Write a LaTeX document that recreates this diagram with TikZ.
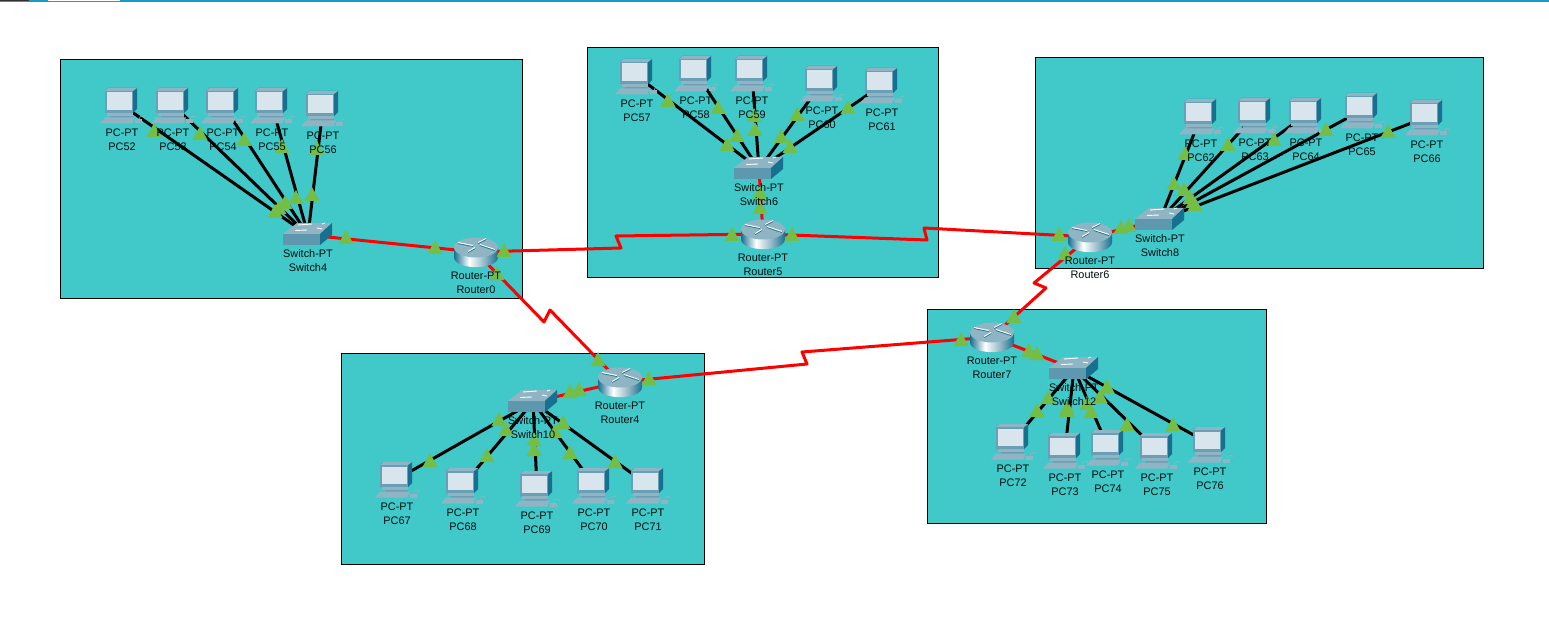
\documentclass[tikz,border=0pt]{standalone}
\usepackage{fontspec}
\setmainfont{Liberation Sans}
\usetikzlibrary{positioning}

\definecolor{roomfill}{HTML}{41C8C9}
\definecolor{linkgreen}{HTML}{74BE46}
\definecolor{barblue}{HTML}{1A9AC9}
\definecolor{devmid}{HTML}{6A9FB5}
\definecolor{devlight}{HTML}{8FB5C5}
\definecolor{devdark}{HTML}{17708F}
\definecolor{devscreen}{HTML}{D8E5EC}

\pgfdeclarehorizontalshading{routerbody}{100bp}{color(0bp)=(devdark); color(25bp)=(devdark);
  color(42bp)=(white); color(60bp)=(devlight); color(75bp)=(devdark); color(100bp)=(devdark)}

\pgfdeclarelayer{linklayer}
\pgfdeclarelayer{marklayer}
\pgfdeclarelayer{textlayer}
\pgfsetlayers{linklayer,main,marklayer,textlayer}

\tikzset{
  room/.style      = {draw=black, line width=1pt, fill=roomfill},
  devpoint/.style  = {inner sep=0pt, minimum size=0pt, outer sep=0pt},
  devlabel/.style  = {inner sep=0pt, align=center, text=black!90!teal,
                      font=\fontsize{10.9}{14}\selectfont},
  ethlink/.style   = {line width=3pt, color=black},
  redlink/.style   = {line width=3pt, color=red, line join=round},
  pcicon/.pic = {
    \fill[devdark]  (-17,-14) -- (-14,-17) -- (15,-17) -- (15,4) -- (11,8) -- (-17,8) -- cycle;
    \fill[devlight] (-17,-14) -- (-14,-17) -- (15,-17) -- (11,-14) -- cycle;
    \fill[devmid]   (-17,-14) rectangle (11,8);
    \fill[devscreen] (-15.5,-12.5) rectangle (10,5);
    \fill[devlight] (-15,8) rectangle (11,11);
    \fill[devmid]   (-12,11) rectangle (11,13);
    \fill[devlight] (-22,18.5) -- (-17,12.5) -- (13,12.5) -- (10,18.5) -- cycle;
    \fill[devlight] (13,14.5) rectangle (20,18.5);
    \draw[devlight, line width=.6pt] (17,14) .. controls (18,10) and (22,11) .. (23,13);
  },
  switchicon/.pic = {
    \fill[devlight] (-25,-1) -- (-11,-12) -- (24,-12) -- (12,-1) -- cycle;
    \fill[devmid!85!devdark] (-25,-1) rectangle (12,10);
    \fill[devdark]  (12,-1) -- (24,-12) -- (24,0) -- (12,10) -- cycle;
    \draw[white, line width=.9pt] (-13,-4.5) -- (-1,-5) (-10,-10) -- (4,-11)
                                  (9,-7) -- (14,-6) (14,-11) -- (17,-12);
  },
  routericon/.pic = {
    \shade[shading=routerbody]
      (-22,-4.5) -- (-22,5) .. controls (-22,18.5) and (22,18.5) .. (22,5) -- (22,-4.5) -- cycle;
    \fill[devlight] (0,-4.5) ellipse [x radius=22, y radius=10];
    \draw[devdark, line width=1.8pt] (-18,-9) -- (-3,-6) (2,-9) -- (10,-13)
                                     (4,-7) -- (19,-2) (-8,0) -- (-1,-4);
    \draw[white, line width=1.1pt] (-18,-9.5) -- (-3,-6.5) (2,-9.5) -- (10,-13.5)
                                   (4,-7.5) -- (19,-2.5) (-8,-.5) -- (-1,-4.5);
  },
  linkup/.pic = {
    \fill[linkgreen] (0,-7) -- (7.5,7) -- (-7.5,7) -- cycle;
  }
}

\newcommand{\PCdev}[3]{
  \node[devpoint] (#1) at (#2,#3) {};
  \pic at (#1) {pcicon};
  \begin{pgfonlayer}{textlayer}
    \node[devlabel] (#1t) at (#2,#3+35) {PC-PT\\#1};
  \end{pgfonlayer}
}
\newcommand{\SwitchDev}[3]{
  \node[devpoint] (#1) at (#2,#3) {};
  \pic at (#1) {switchicon};
  \begin{pgfonlayer}{textlayer}
    \node[devlabel] (#1t) at (#2,#3+26) {Switch-PT\\#1};
  \end{pgfonlayer}
}
\newcommand{\RouterDev}[3]{
  \node[devpoint] (#1) at (#2,#3) {};
  \pic at (#1) {routericon};
  \begin{pgfonlayer}{textlayer}
    \node[devlabel] (#1t) at (#2,#3+31) {Router-PT\\#1};
  \end{pgfonlayer}
}

\begin{document}
\begin{tikzpicture}[x=1pt, y=-1pt]

\useasboundingbox (0,0) rectangle (1549,620);

% window edge

\fill[barblue] (0,0) rectangle (1549,2.5);
\fill[black!80] (0,0) rectangle (29,0.8);
\fill[white] (48,0) rectangle (120,1);

\begin{pgfonlayer}{linklayer}
\draw[room] (60.5,59.5) rectangle (522.5,298.5);
\draw[room] (587.5,47.5) rectangle (938.5,277.5);
\draw[room] (1035.5,57.5) rectangle (1483.5,268.5);
\draw[room] (341.5,353.5) rectangle (704.5,564.5);
\draw[room] (927.5,309.5) rectangle (1266.5,523.5);
\end{pgfonlayer}

% group 1

\PCdev{PC52}{122}{105}
\PCdev{PC53}{173}{105}
\PCdev{PC54}{223}{105}
\PCdev{PC55}{272}{105}
\PCdev{PC56}{323}{108}
\SwitchDev{Switch4}{308}{235}
\RouterDev{Router0}{476}{252}

% group 2

\PCdev{PC57}{637}{76}
\PCdev{PC58}{696}{73}
\PCdev{PC59}{752}{73}
\PCdev{PC60}{822}{83}
\PCdev{PC61}{882}{85}
\SwitchDev{Switch6}{759}{169}
\RouterDev{Router5}{763}{234}

% group 3

\PCdev{PC62}{1201}{116}
\PCdev{PC63}{1255}{115}
\PCdev{PC64}{1306}{115}
\PCdev{PC65}{1362}{110}
\PCdev{PC66}{1427}{117}
\SwitchDev{Switch8}{1160}{220}
\RouterDev{Router6}{1090}{237}

% group 4

\PCdev{PC67}{397}{479}
\PCdev{PC68}{463}{485}
\PCdev{PC69}{537}{488}
\PCdev{PC70}{594}{485}
\PCdev{PC71}{648}{485}
\SwitchDev{Switch10}{533}{402}
\RouterDev{Router4}{620}{382}

% group 5

\PCdev{PC72}{1013}{441}
\PCdev{PC73}{1065}{450}
\PCdev{PC74}{1108}{447}
\PCdev{PC75}{1157}{450}
\PCdev{PC76}{1210}{444}
\SwitchDev{Switch12}{1074}{369}
\RouterDev{Router7}{992}{337}

\begin{pgfonlayer}{linklayer}
\draw[ethlink] (PC52) -- (Switch4);
\draw[ethlink] (PC53) -- (Switch4);
\draw[ethlink] (PC54) -- (Switch4);
\draw[ethlink] (PC55) -- (Switch4);
\draw[ethlink] (PC56) -- (Switch4);

\draw[ethlink] (PC57) -- (Switch6);
\draw[ethlink] (PC58) -- (Switch6);
\draw[ethlink] (PC59) -- (Switch6);
\draw[ethlink] (PC60) -- (Switch6);
\draw[ethlink] (PC61) -- (Switch6);

\draw[ethlink] (PC62) -- (Switch8);
\draw[ethlink] (PC63) -- (Switch8);
\draw[ethlink] (PC64) -- (Switch8);
\draw[ethlink] (PC65) -- (Switch8);
\draw[ethlink] (PC66) -- (Switch8);

\draw[ethlink] (PC67) -- (Switch10);
\draw[ethlink] (PC68) -- (Switch10);
\draw[ethlink] (PC69) -- (Switch10);
\draw[ethlink] (PC70) -- (Switch10);
\draw[ethlink] (PC71) -- (Switch10);

\draw[ethlink] (PC72) -- (Switch12);
\draw[ethlink] (PC73) -- (Switch12);
\draw[ethlink] (PC74) -- (Switch12);
\draw[ethlink] (PC75) -- (Switch12);
\draw[ethlink] (PC76) -- (Switch12);

\draw[redlink] (Switch4) -- (Router0);
\draw[redlink] (Switch6) -- (Router5);
\draw[redlink] (Switch8) -- (Router6);
\draw[redlink] (Switch10) -- (Router4);
\draw[redlink] (Switch12) -- (Router7);

\draw[redlink] (Router0) -- (621,248) -- (616,236) -- (Router5);
\draw[redlink] (Router5) -- (927,240) -- (924,228) -- (Router6);
\draw[redlink] (Router0) -- (544,322) -- (550,310) -- (Router4);
\draw[redlink] (Router4) -- (807,364) -- (802,352) -- (Router7);
\draw[redlink] (Router6) -- (1034,283) -- (1046,288) -- (Router7);
\end{pgfonlayer}

% link lights

\begin{pgfonlayer}{marklayer}
\foreach \tx/\ty in {154/130, 200/133, 244/139, 282/146, 317/148,
                     275/211, 279/207, 285/202, 296/197, 312/194,
                     346/237, 435/247, 504/250, 497/273,
                     668/100, 718/107, 754/115, 797/114, 848/107,
                     727/144, 737/135, 755/129, 781/136, 790/146,
                     760/192, 760/207, 732/234, 792/234,
                     1185/153, 1228/144, 1274/139, 1326/129, 1388/131,
                     1174/183, 1184/189, 1190/197, 1193/201, 1195/204,
                     1059/234, 1065/253, 1121/227, 1129/225,
                     430/460, 487/455, 534/449, 570/452, 615/461,
                     499/419, 506/429, 534/439, 555/431, 563/422,
                     570/391, 579/389, 649/378, 598/359,
                     961/339, 1014/316, 1029/350, 1037/353,
                     1037/410, 1067/410, 1091/411, 1127/424, 1173/424,
                     1048/397, 1067/407, 1087/403, 1100/396, 1107/386}
  \pic at (\tx,\ty) {linkup};
\end{pgfonlayer}

\end{tikzpicture}
\end{document}
